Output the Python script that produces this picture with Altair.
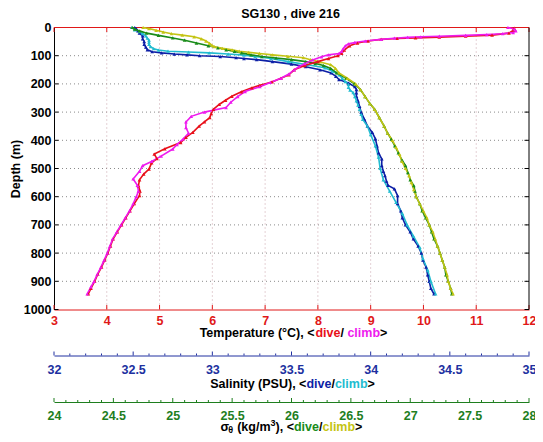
import altair as alt
import pandas as pd

# ---------------- values ----------------
T_dive_depth = [2, 10, 20, 27, 31, 34, 37, 39, 42, 48, 55, 65, 80, 92, 100, 110, 121, 135, 150, 168,
                180, 193, 205, 214, 228, 244, 258, 273, 290, 305, 320, 335, 350, 372, 390, 408, 430, 449, 465, 480,
                502, 520, 540, 561, 580, 596, 625, 650, 675, 700, 725, 750, 775, 800, 825, 850, 875, 900, 925, 945]
T_dive_val = [11.72, 11.7, 11.62, 11.3, 10.8, 10.3, 9.85, 9.5, 9.2, 8.95, 8.75, 8.6, 8.5, 8.45, 8.38, 8.2, 8.0, 7.75, 7.55, 7.45,
              7.3, 7.13, 6.9, 6.75, 6.55, 6.37, 6.25, 6.13, 6.02, 5.98, 5.95, 5.85, 5.75, 5.63, 5.5, 5.4, 5.1, 4.9, 4.95, 4.85,
              4.8, 4.7, 4.62, 4.6, 4.63, 4.62, 4.52, 4.44, 4.36, 4.28, 4.2, 4.12, 4.07, 4.02, 3.96, 3.9, 3.83, 3.77, 3.7, 3.65]

T_climb_depth = [0, 5, 12, 18, 22, 25, 28, 31, 33, 35, 38, 42, 48, 53, 58, 65, 75, 85, 92, 97,
                 104, 115, 128, 139, 150, 165, 180, 195, 210, 227, 245, 265, 284, 300, 315, 335, 355, 375, 395, 415,
                 431, 456, 475, 490, 510, 537, 560, 580, 600, 625, 650, 675, 700, 725, 750, 775, 800, 825, 850, 875,
                 900, 920, 945]
T_climb_val = [11.6, 11.72, 11.75, 11.7, 11.5, 11.2, 10.8, 10.3, 9.95, 9.7, 9.45, 9.2, 8.9, 8.7, 8.58, 8.52, 8.48, 8.45, 8.4, 8.2,
               8.07, 7.9, 7.75, 7.64, 7.55, 7.45, 7.3, 7.1, 6.9, 6.62, 6.48, 6.35, 6.26, 5.85, 5.6, 5.5, 5.5, 5.55, 5.45, 5.33,
               5.25, 5.03, 4.85, 4.68, 4.62, 4.5, 4.58, 4.6, 4.56, 4.5, 4.43, 4.35, 4.27, 4.19, 4.11, 4.06, 4.01, 3.95, 3.89, 3.82,
               3.76, 3.7, 3.63]

S_dive_depth = [0, 5, 12, 20, 30, 40, 50, 60, 70, 79, 86, 90, 94, 97, 100, 103, 107, 110, 114, 121,
                130, 139, 150, 161, 173, 185, 197, 210, 220, 232, 244, 260, 280, 301, 325, 350, 372, 395, 420, 445,
                466, 490, 510, 525, 545, 560, 572, 596, 625, 650, 675, 700, 725, 750, 775, 800, 825, 850, 877, 900,
                925, 945]
S_dive_val = [32.51, 32.52, 32.53, 32.54, 32.56, 32.56, 32.57, 32.57, 32.58, 32.59, 32.62, 32.68, 32.76, 32.84, 32.92, 33.05, 33.15, 33.2, 33.28, 33.38,
              33.5, 33.59, 33.68, 33.75, 33.78, 33.8, 33.86, 33.9, 33.91, 33.91, 33.91, 33.92, 33.93, 33.94, 33.96, 33.98, 34.01, 34.03, 34.04, 34.05,
              34.07, 34.07, 34.08, 34.09, 34.1, 34.11, 34.15, 34.17, 34.17, 34.19, 34.2, 34.22, 34.25, 34.27, 34.3, 34.32, 34.33, 34.35, 34.36, 34.37,
              34.38, 34.4]

S_climb_depth = [0, 8, 15, 22, 30, 38, 45, 52, 60, 68, 75, 80, 84, 87, 90, 94, 98, 103, 110, 121,
                 132, 143, 155, 168, 180, 192, 202, 212, 222, 231, 245, 260, 275, 290, 308, 326, 350, 380, 420, 460,
                 500, 540, 580, 620, 660, 700, 740, 780, 820, 860, 900, 945]
S_climb_val = [32.49, 32.51, 32.54, 32.56, 32.58, 32.59, 32.6, 32.6, 32.6, 32.61, 32.63, 32.66, 32.72, 32.85, 32.98, 33.1, 33.2, 33.27, 33.37, 33.48,
               33.6, 33.71, 33.76, 33.8, 33.82, 33.84, 33.86, 33.86, 33.87, 33.89, 33.9, 33.91, 33.92, 33.93, 33.94, 33.95, 33.98, 34.0, 34.03, 34.05,
               34.06, 34.08, 34.12, 34.16, 34.2, 34.23, 34.27, 34.31, 34.33, 34.36, 34.38, 34.41]

G_dive_depth = [0, 6, 12, 20, 28, 37, 45, 55, 65, 72, 79, 85, 90, 97, 103, 108, 114, 121, 128, 135,
                145, 161, 180, 200, 220, 245, 270, 290, 320, 350, 375, 396, 420, 445, 470, 490, 515, 540, 561, 580,
                600, 625, 650, 675, 700, 725, 750, 775, 800, 825, 850, 877, 900, 925, 945]
G_dive_val = [24.66, 24.68, 24.72, 24.78, 24.88, 25.0, 25.1, 25.2, 25.3, 25.38, 25.45, 25.52, 25.58, 25.66, 25.75, 25.87, 26.0, 26.12, 26.2, 26.27,
              26.33, 26.38, 26.46, 26.53, 26.58, 26.62, 26.66, 26.7, 26.74, 26.78, 26.81, 26.84, 26.87, 26.9, 26.93, 26.96, 26.98, 27.0, 27.03, 27.04,
              27.05, 27.08, 27.1, 27.13, 27.16, 27.18, 27.2, 27.23, 27.25, 27.27, 27.29, 27.3, 27.32, 27.34, 27.35]

G_climb_depth = [0, 4, 10, 16, 22, 27, 33, 40, 48, 56, 63, 68, 74, 79, 84, 88, 92, 97, 102, 107,
                 114, 122, 132, 145, 161, 180, 200, 220, 245, 270, 290, 320, 350, 375, 400, 425, 450, 475, 500, 525,
                 550, 575, 600, 625, 650, 675, 700, 725, 750, 775, 800, 825, 850, 877, 900, 925, 945]
G_climb_val = [24.75, 24.8, 24.86, 24.92, 24.99, 25.08, 25.18, 25.24, 25.28, 25.31, 25.33, 25.35, 25.42, 25.5, 25.56, 25.64, 25.73, 25.84, 25.97, 26.1,
               26.16, 26.24, 26.33, 26.37, 26.4, 26.47, 26.54, 26.58, 26.62, 26.66, 26.7, 26.74, 26.78, 26.81, 26.85, 26.88, 26.91, 26.93, 26.96, 26.99,
               27.01, 27.03, 27.05, 27.08, 27.11, 27.14, 27.16, 27.19, 27.21, 27.23, 27.25, 27.27, 27.29, 27.31, 27.32, 27.34, 27.36]

T_ticks = [3, 4, 5, 6, 7, 8, 9, 10, 11, 12]
S_ticks = [32, 32.5, 33, 33.5, 34, 34.5, 35]
G_ticks = [24, 24.5, 25, 25.5, 26, 26.5, 27, 27.5, 28]
D_ticks = [0, 100, 200, 300, 400, 500, 600, 700, 800, 900, 1000]
TITLE = "SG130 , dive 216"

# ---------------- styling / layout ----------------
W, H = 475.0, 282.0
S_OFF, G_OFF = 46, 92.5
FONT = "Liberation Sans"
FS = 12.5
RED, MAG = "#e8101a", "#ee1aee"
BLUE, CYAN = "#0d1fa6", "#22bcd0"
GREEN, YEL = "#1a8c1a", "#c4c414"
T_AX, S_AX, G_AX = "#e01818", "#2030a0", "#1e7e1e"

T_SC = alt.Scale(domain=[3, 12], nice=False, zero=False)
S_SC = alt.Scale(domain=[32, 35], nice=False, zero=False)
G_SC = alt.Scale(domain=[24, 28], nice=False, zero=False)

Y_AXIS = alt.Axis(values=D_ticks, title="Depth (m)", titleFont=FONT, titleFontSize=FS,
                  titleFontWeight="bold", titleColor="black", titlePadding=1,
                  labelFont=FONT, labelFontSize=FS, labelFontWeight="bold", labelColor="black",
                  labelPadding=3, labelFlush=False, labelOverlap=False, ticks=False, grid=False,
                  domainColor="black", domainWidth=1, labelExpr="'' + datum.value")


def Y():
    return alt.Y("depth:Q", scale=alt.Scale(domain=[0, 1000], reverse=True, nice=False, zero=False),
                 axis=Y_AXIS)


def xaxis(color, offset, pad, values):
    return alt.Axis(orient="bottom", offset=offset, values=values, title=None, ticks=False, grid=False,
                    domainColor=color, domainWidth=1, labelColor=color, labelFont=FONT, labelFontSize=FS,
                    labelFontWeight="bold", labelPadding=pad, labelFlush=False, labelOverlap=False,
                    labelExpr="'' + datum.value")


NAMES = ["S_dive", "S_climb", "G_dive", "G_climb", "T_dive", "T_climb"]
COLS = [BLUE, CYAN, GREEN, YEL, RED, MAG]
COLOR = alt.Color("series:N", scale=alt.Scale(domain=NAMES, range=COLS), legend=None)


def long(depths, vals, name):
    return pd.DataFrame({"depth": depths, "val": vals, "series": name, "i": list(range(len(depths)))})


dfT = pd.concat([long(T_dive_depth, T_dive_val, "T_dive"), long(T_climb_depth, T_climb_val, "T_climb")])
dfS = pd.concat([long(S_dive_depth, S_dive_val, "S_dive"), long(S_climb_depth, S_climb_val, "S_climb")])
dfG = pd.concat([long(G_dive_depth, G_dive_val, "G_dive"), long(G_climb_depth, G_climb_val, "G_climb")])

layers = []
# grid
layers.append(alt.Chart(pd.DataFrame({"depth": D_ticks[1:-1]})).mark_rule(
    color="#8a8a8a", strokeDash=[1, 3], strokeWidth=1).encode(y=Y(), x=alt.value(0), x2=alt.value(W)))
layers.append(alt.Chart(pd.DataFrame({"t": T_ticks[1:-1]})).mark_rule(
    color="#c9a3ab", strokeDash=[1, 3], strokeWidth=1).encode(
    x=alt.X("t:Q", scale=T_SC, axis=None), y=alt.value(0), y2=alt.value(H)))

# inward ticks on the box
tdf = pd.DataFrame({"t": T_ticks})
layers.append(alt.Chart(tdf).mark_rule(color=T_AX).encode(
    x=alt.X("t:Q", scale=T_SC, axis=None), y=alt.value(H - 4.5), y2=alt.value(H)))
layers.append(alt.Chart(tdf).mark_rule(color=T_AX).encode(
    x=alt.X("t:Q", scale=T_SC, axis=None), y=alt.value(0), y2=alt.value(4.5)))
ddf = pd.DataFrame({"depth": D_ticks})
layers.append(alt.Chart(ddf).mark_rule(color="black").encode(y=Y(), x=alt.value(0), x2=alt.value(4.5)))
layers.append(alt.Chart(ddf).mark_rule(color="black").encode(y=Y(), x=alt.value(W - 4.5), x2=alt.value(W)))

one = pd.DataFrame({"z": [0]})
layers.append(alt.Chart(one).mark_rule(color=T_AX).encode(x=alt.value(0), x2=alt.value(W), y=alt.value(0)))
layers.append(alt.Chart(one).mark_rule(color="black").encode(x=alt.value(W), y=alt.value(0), y2=alt.value(H)))

# ticks of the extra salinity / sigma axes (pointing up)
S_minor = [round(32 + k * 0.1, 1) for k in range(31) if round(32 + k * 0.1, 1) not in S_ticks]
G_minor = [round(24 + k * 0.1, 1) for k in range(41) if round(24 + k * 0.1, 1) not in G_ticks]
for vals, sc, col, off, ln in [(S_ticks, S_SC, S_AX, S_OFF, 4), (S_minor, S_SC, S_AX, S_OFF, 2),
                               (G_ticks, G_SC, G_AX, G_OFF, 4), (G_minor, G_SC, G_AX, G_OFF, 2)]:
    layers.append(alt.Chart(pd.DataFrame({"v": vals})).mark_rule(color=col).encode(
        x=alt.X("v:Q", scale=sc, axis=None), y=alt.value(H + off - ln), y2=alt.value(H + off)))


def series_layers(df, sc, axis):
    base = alt.Chart(df)
    line = base.mark_line(strokeWidth=1.6).encode(
        x=alt.X("val:Q", scale=sc, axis=axis), y=Y(), color=COLOR, order=alt.Order("i:Q"))
    pts = base.mark_point(shape="triangle-up", filled=True, size=14, opacity=1).encode(
        x=alt.X("val:Q", scale=sc, axis=None), y=Y(), color=COLOR)
    return [line, pts]


layers += series_layers(dfS, S_SC, xaxis(S_AX, S_OFF, 8, S_ticks))
layers += series_layers(dfG, G_SC, xaxis(G_AX, G_OFF, 7.5, G_ticks))
layers += series_layers(dfT, T_SC, xaxis(T_AX, 0, 5, T_ticks))

# ---------------- titles (multi-coloured) ----------------
AW = {' ': 278, '(': 333, ')': 333, ',': 278, '<': 584, '>': 584, '/': 278, '°': 400,
      '0': 556, '1': 556, '2': 556, '3': 556, '6': 556, 'C': 722, 'G': 778, 'P': 667, 'S': 667,
      'T': 611, 'U': 722, 'a': 556, 'b': 611, 'c': 556, 'd': 611, 'e': 556, 'g': 611, 'i': 278,
      'k': 556, 'l': 278, 'm': 889, 'n': 611, 'p': 611, 'r': 389, 't': 333, 'u': 611, 'v': 556,
      'y': 556, 'σ': 611, 'θ': 611}


def tw(s, size):
    return sum(AW.get(ch, 556) for ch in s) * size / 1000.0


def lay_out(segs, cx, y):
    segs = [(s + (FS, 0))[:4] if len(s) == 2 else s for s in segs]
    total = sum(tw(t, fs) for t, c, fs, dy in segs)
    x = cx - total / 2
    rows = []
    for t, c, fs, dy in segs:
        lead = len(t) - len(t.lstrip())
        rows.append({"txt": t.strip(), "px": x + tw(" ", fs) * lead, "py": y + dy, "col": c, "fs": fs})
        x += tw(t, fs)
    return rows


K = "black"
rows = []
rows += lay_out([(TITLE, K)], W / 2 - 1, -10)
rows += lay_out([("Temperature (°C), <", K), ("dive", RED), ("/ ", K), ("climb", MAG), (">", K)],
                W / 2 + 2, H + 27.5)
rows += lay_out([("Salinity (PSU), <", K), ("dive", BLUE), ("/", K), ("climb", CYAN), (">", K)],
                W / 2 + 1, H + 78)
rows += lay_out([("σ", K, FS, 0), ("θ", K, 9, 2.5), (" (kg/m", K, FS, 0), ("3", K, 9, -5),
                 ("), <", K, FS, 0), ("dive", GREEN, FS, 0), ("/", K, FS, 0), ("climb", YEL, FS, 0),
                 (">", K, FS, 0)], W / 2, H + 121)
tdf_txt = pd.DataFrame(rows)
layers.append(alt.Chart(tdf_txt).mark_text(align="left", baseline="alphabetic", font=FONT,
                                           fontWeight="bold").encode(
    x=alt.X("px:Q", scale=None, axis=None), y=alt.Y("py:Q", scale=None, axis=None),
    text="txt:N", color=alt.Color("col:N", scale=None), size=alt.Size("fs:Q", scale=None)))

chart = alt.layer(*layers).resolve_scale(x="independent").properties(
    width=W, height=H,
    padding={"left": 46, "top": 19.5, "right": 6, "bottom": 124},
    autosize=alt.AutoSizeParams(type="none"),
).configure_view(stroke=None)

chart.save("out.html", embed_options={"renderer": "svg", "actions": False})
